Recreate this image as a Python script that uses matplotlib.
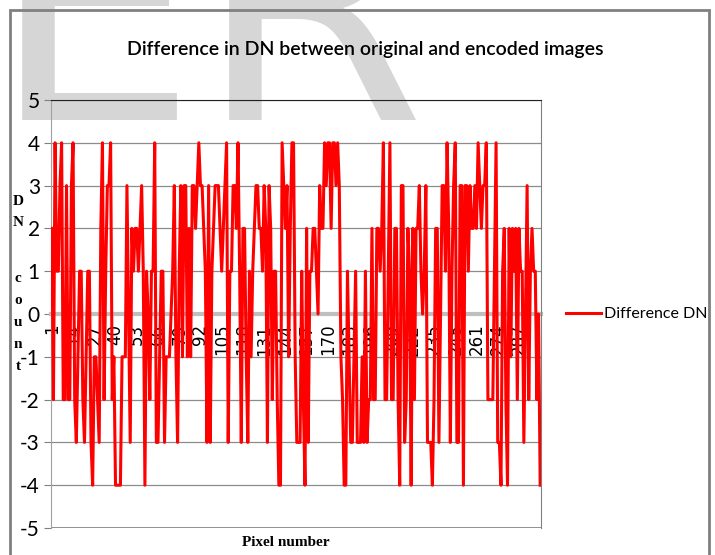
import matplotlib
matplotlib.use("Agg")
import matplotlib.pyplot as plt
from matplotlib.patches import Rectangle

# difference in DN per pixel
diff_dn = [
    2, -2, 4, 1, 1, 3, 4, -2, -2, 3,
    -2, -2, 3, 4, -2, -3, -1, 1, 1, -2,
    -3, -1, 1, 1, -3, -4, -1, -1, -2, -3,
    2, 4, -2, 1, 3, 3, 4, -2, -1, -4,
    -4, -4, -4, -1, -1, -1, 3, 0, -3, 2,
    1, 2, 2, 1, 2, 3, 1, -4, 1, 0,
    -2, 1, 1, 4, -3, -3, -1, 1, 1, -3,
    -1, -1, -1, 0, 1, 3, -1, -3, 1, 3,
    -1, 3, 3, -1, 2, -1, 3, 3, 2, 3,
    4, 3, 3, 2, 1, -3, 3, -3, 1, 2,
    3, 3, 3, 2, 1, 2, 3, 4, -3, 1,
    1, 3, 3, 2, 4, 1, -3, 2, 2, -1,
    -3, 1, -1, 1, 2, 3, 3, 2, 2, 1,
    3, 2, -3, 3, 2, -2, 1, 1, -2, -4,
    -4, 4, 3, 2, 3, -1, 2, 4, 4, -1,
    -3, -3, -3, 1, -2, -4, 2, -3, 1, 1,
    2, 2, 1, 0, 3, 2, 2, 4, 3, 4,
    4, 2, 4, 4, 3, 4, 3, -1, -2, -4,
    -4, 1, -1, -3, -3, -1, 1, -3, -3, -3,
    -1, -3, 1, -3, -2, -2, 2, -2, -2, 2,
    2, 1, 2, 4, -2, -2, 1, 4, -2, -2,
    2, 2, -2, -4, 3, 3, -3, -2, 2, 1,
    -4, 2, -2, 2, 2, 3, 1, 0, 1, 3,
    -3, -3, -3, -4, -2, 2, 2, -3, 0, 3,
    3, 1, 4, 2, -3, 1, 3, 4, -3, -3,
    3, 3, -4, 3, 3, 1, 3, 2, 2, 3,
    2, 4, 3, 2, 3, 3, 4, -2, -2, -2,
    -2, 1, 4, -3, -3, -4, 1, 2, -2, -4,
    2, -1, 2, 1, 2, -2, 2, 1, 1, -3,
    0, 3, -2, 1, 2, 1, 1, -2, 0, -4,
]
pixel_number = list(range(1, len(diff_dn) + 1))
x_ticks = list(range(1, len(diff_dn), 13))
y_ticks = list(range(-5, 6))

NARROW = ["Lato", "DejaVu Sans"]
SERIF = ["Liberation Serif", "DejaVu Serif"]
W, H = 715, 555


def px(x, y):
    # pixel (from top-left) -> figure fraction
    return x / W, 1 - y / H


def main():
    fig = plt.figure(figsize=(W / 100, H / 100), dpi=100)

    # watermark + outer frame
    fig.text(*px(-10, 120), "ER", fontsize=237, color="#d6d6d6",
             family="DejaVu Sans", ha="left", va="baseline", zorder=-2)
    fig.patches.append(Rectangle(px(10, 600), (709 - 10) / W, 590 / H,
                                 transform=fig.transFigure, fill=False,
                                 edgecolor="#808080", lw=2, zorder=-1))

    l, t = px(51, 100)
    r, b = px(541, 528)
    ax = fig.add_axes([l, b, r - l, t - b])
    ax.patch.set_visible(False)

    # Excel-style category axis crossing at zero (set before tick styling,
    # set_position resets the ticks)
    ax.spines["bottom"].set_position(("data", 0))
    ax.spines["bottom"].set_color("#bfbfbf")
    ax.spines["bottom"].set_linewidth(3)
    ax.spines["bottom"].set_zorder(2)
    ax.spines["top"].set_color("#222222")
    ax.spines["left"].set_color("#a0a0a0")
    ax.spines["right"].set_color("#808080")

    ax.plot(pixel_number, diff_dn, color="#ff0000", lw=2.2,
            label="Difference DN", zorder=3)

    ax.set_xlim(0.5, len(diff_dn) + 0.5)
    ax.set_ylim(-5, 5)
    ax.set_yticks(y_ticks)
    ax.set_yticklabels([str(v) for v in y_ticks], family=NARROW, fontsize=15)
    ax.tick_params(axis="y", length=5, color="#808080", pad=3)
    ax.grid(axis="y", color="#8c8c8c", lw=0.9, zorder=1)
    ax.axhline(-5, color="#808080", lw=1.2, zorder=1)

    ax.set_xticks(x_ticks)
    ax.set_xticklabels([str(v) for v in x_ticks], rotation=90,
                       fontsize=12, family="DejaVu Sans", va="top", ha="center")
    ax.tick_params(axis="x", length=0, pad=7)

    fig.text(*px(365, 50), "Difference in DN between original and encoded images",
             family=NARROW, fontsize=14, weight="semibold",
             ha="center", va="center")

    for ch, y in zip("DNcount", [201, 223, 278, 300, 322, 344, 366]):
        fig.text(*px(18, y), ch, family=SERIF, weight="bold", fontsize=11,
                 ha="center", va="center")
    fig.text(*px(286, 543), "Pixel number", family=SERIF, weight="bold",
             fontsize=11, ha="center", va="center")

    ax.legend(loc="center left", bbox_to_anchor=px(566, 314),
              bbox_transform=fig.transFigure, frameon=False,
              prop={"family": NARROW, "size": 11.5}, handlelength=2.2,
              handletextpad=0.15, borderpad=0, borderaxespad=0)

    fig.savefig("out.png", dpi=100)


if __name__ == "__main__":
    main()
